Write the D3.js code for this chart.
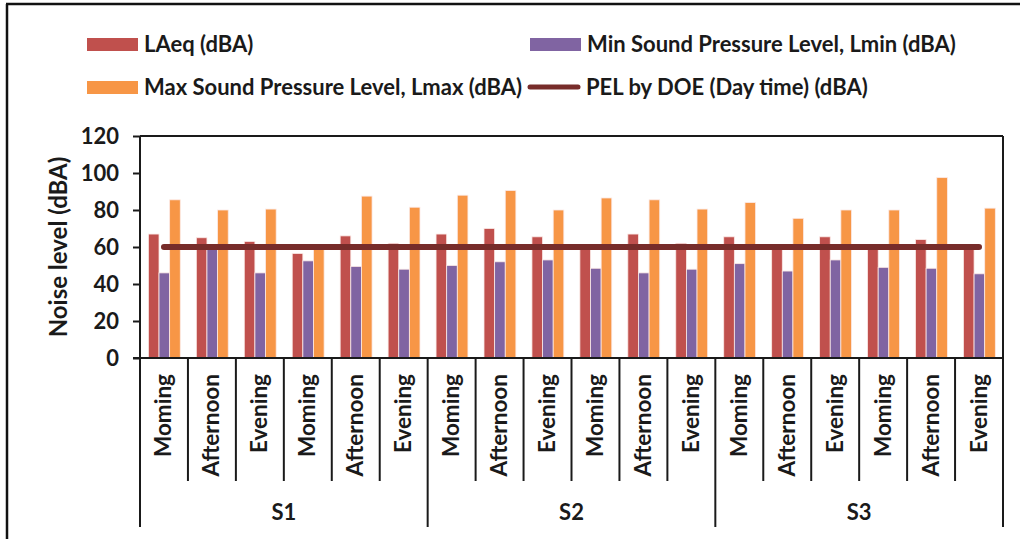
<!DOCTYPE html>
<html><head><meta charset="utf-8">
<script src="https://cdn.jsdelivr.net/npm/d3@7/dist/d3.min.js"></script>
<style>
html,body{margin:0;padding:0;background:#fff;}
svg{display:block;font-family:Lato,"Liberation Sans",sans-serif;}
</style></head>
<body>
<svg id="chart" width="1020" height="539"></svg>
<script>
const categories = ["Moming","Afternoon","Evening","Moming","Afternoon","Evening",
                    "Moming","Afternoon","Evening","Moming","Afternoon","Evening",
                    "Moming","Afternoon","Evening","Moming","Afternoon","Evening"];
const sites = ["S1","S2","S3"];
const laeq = [67,65,63,56.5,66,62, 67,70,65.5,60,67,62, 65.5,59.5,65.5,59.5,64,59.5];
const lmin = [46,59,46,52.5,49.5,48, 50,52,53,48.5,46,48, 51,47,53,49,48.5,45.5];
const lmax = [85.5,80,80.5,59,87.5,81.5, 88,90.5,80,86.5,85.5,80.5, 84,75.5,80,80,97.5,81];
const pel  = [60,60,60,60,60,60, 60,60,60,60,60,60, 60,60,60,60,60,60];
const yTicks = [0,20,40,60,80,100,120];
const seriesNames = ["LAeq (dBA)","Min Sound Pressure Level, Lmin (dBA)","Max Sound Pressure Level, Lmax (dBA)","PEL by DOE (Day time) (dBA)"];
const colors = ["#C0504D","#8064A2","#F79646","#772C2A"];

(function(){
const svg = d3.select("#chart");
const txt = "#1a1a1a";

svg.append("line").attr("x1",6).attr("x2",1020).attr("y1",4).attr("y2",4).attr("stroke","#111").attr("stroke-width",2.5);
svg.append("line").attr("x1",7).attr("x2",7).attr("y1",4).attr("y2",539).attr("stroke","#111").attr("stroke-width",2.5);

const pL = 140, pR = 1003, pT = 136, pB = 358;
const x = d3.scaleBand().domain(d3.range(categories.length)).range([pL,pR]).paddingInner(0).paddingOuter(0);
const bw = x.bandwidth();
const x1 = d3.scaleBand().domain([0,1,2]).range([bw*0.175, bw*0.84]).padding(0);
const y = d3.scaleLinear().domain([0,120]).range([pB, pT]);

svg.append("line").attr("x1",pL).attr("x2",pR).attr("y1",pT).attr("y2",pT).attr("stroke",txt).attr("stroke-width",2);
svg.append("line").attr("x1",pR).attr("x2",pR).attr("y1",pT).attr("y2",pB).attr("stroke",txt).attr("stroke-width",2);

const data = [laeq,lmin,lmax];
data.forEach((arr,s)=>{
  svg.append("g").selectAll("rect").data(arr).join("rect")
    .attr("x",(d,i)=>x(i)+x1(s))
    .attr("width",x1.bandwidth())
    .attr("y",d=>y(d))
    .attr("height",d=>y(0)-y(d))
    .attr("fill",colors[s])
    .attr("stroke","#fbe9e6").attr("stroke-width",0.8);
});

svg.append("path")
  .datum(pel)
  .attr("d", d3.line().x((d,i)=>x(i)+bw/2).y(d=>y(d)))
  .attr("fill","none").attr("stroke",colors[3]).attr("stroke-width",6).attr("stroke-linecap","round");

const yAxis = d3.axisLeft(y).tickValues(yTicks).tickSize(7).tickPadding(14);
const gy = svg.append("g").attr("transform",`translate(${pL},0)`).call(yAxis);
gy.select(".domain").remove();
gy.selectAll(".tick line").attr("stroke",txt).attr("stroke-width",2);
gy.selectAll(".tick text").attr("fill",txt).style("font-size","22px").style("font-weight","700").style("font-family","Lato");
svg.append("line").attr("x1",pL).attr("x2",pL).attr("y1",pT).attr("y2",527).attr("stroke",txt).attr("stroke-width",2);
svg.append("line").attr("x1",pL-7).attr("x2",pR).attr("y1",pB).attr("y2",pB).attr("stroke",txt).attr("stroke-width",2);

svg.append("text").attr("transform",`translate(67,${(pT+pB)/2}) rotate(-90)`)
  .attr("text-anchor","middle").attr("fill",txt)
  .style("font-size","24px").style("font-weight","700").text("Noise level (dBA)");

d3.range(1, categories.length+1).forEach(i=>{
  const xx = i<categories.length ? x(i) : pR;
  const isGroup = i%6===0;
  svg.append("line").attr("x1",xx).attr("x2",xx).attr("y1",pB).attr("y2",isGroup?527:481)
    .attr("stroke",txt).attr("stroke-width",2);
});

svg.append("g").selectAll("text").data(categories).join("text")
  .attr("transform",(d,i)=>`translate(${x(i)+bw/2+7.5},374) rotate(-90)`)
  .attr("text-anchor","end").attr("fill",txt)
  .style("font-size","22.5px").style("font-weight","700").text(d=>d);

svg.append("g").selectAll("text").data(sites).join("text")
  .attr("x",(d,i)=>(x(i*6)+ (i*6+6<categories.length?x(i*6+6):pR))/2)
  .attr("y",520).attr("text-anchor","middle").attr("fill",txt)
  .style("font-size","22px").style("font-weight","700").text(d=>d);

const leg = [
  {x:87, y:44, type:"rect", c:colors[0], t:seriesNames[0]},
  {x:530, y:44, type:"rect", c:colors[1], t:seriesNames[1]},
  {x:87, y:87, type:"rect", c:colors[2], t:seriesNames[2]},
  {x:527, y:87, type:"line", c:colors[3], t:seriesNames[3]}
];
leg.forEach(l=>{
  if(l.type==="rect"){
    svg.append("rect").attr("x",l.x).attr("y",l.y-6).attr("width",51).attr("height",13).attr("fill",l.c);
  } else {
    svg.append("line").attr("x1",l.x+3).attr("x2",l.x+51).attr("y1",l.y).attr("y2",l.y)
      .attr("stroke",l.c).attr("stroke-width",5).attr("stroke-linecap","round");
  }
  svg.append("text").attr("x",l.x+(l.type==="rect"?57:59)).attr("y",l.y).attr("dy","0.35em")
    .attr("fill",txt).style("font-size","22px").style("font-weight","700").text(l.t);
});
})();
</script>
</body></html>
